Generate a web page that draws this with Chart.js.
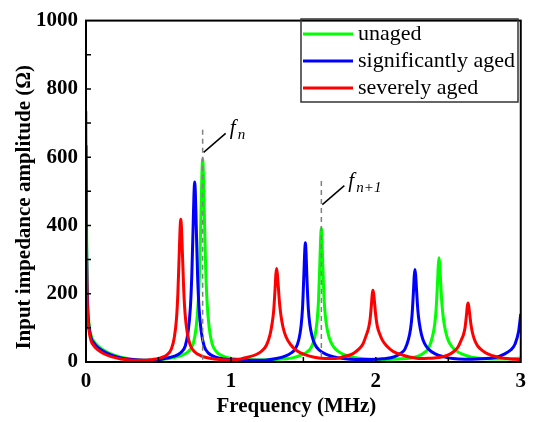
<!DOCTYPE html>
<html>
<head>
<meta charset="utf-8">
<script src="https://cdn.jsdelivr.net/npm/chart.js@4.4.1/dist/chart.umd.min.js"></script>
<style>
  body { margin: 0; background: #fff; }
  #wrap { width: 533px; height: 422px; }
</style>
</head>
<body>
<div id="wrap"><canvas id="chart"></canvas></div>
<script>
// Data: [frequency (MHz), amplitude (ohm)]
const unaged = [
  [0,735],[0.002,560],[0.004,380],[0.007,250],[0.012,165],[0.02,115],[0.035,78],[0.055,60],[0.08,48],[0.12,35],[0.18,22],[0.24,14],[0.3,9],[0.36,6],[0.42,5],[0.5,6],
  [0.605,13],[0.665,20],[0.71,32],[0.74,54],[0.76,101],[0.775,179],[0.785,286],[0.795,464],[0.8,553],[0.805,595],
  [0.81,553],[0.815,464],[0.825,286],[0.835,179],[0.85,101],[0.87,54],[0.9,30],[0.945,17],[1.005,10],
  [1.1,7],[1.2,6],[1.3,7],
  [1.424,12],[1.484,20],[1.524,29],[1.554,43],[1.579,74],[1.594,118],[1.604,176],[1.614,294],[1.619,361],[1.624,392],
  [1.629,353],[1.634,282],[1.644,176],[1.654,125],[1.669,86],[1.689,59],[1.719,39],[1.764,25],[1.824,16],[1.884,11],
  [1.97,8],[2.06,7],[2.15,9],
  [2.236,11],[2.296,18],[2.336,28],[2.366,42],[2.391,75],[2.406,110],[2.416,155],[2.426,235],[2.431,283],[2.436,305],
  [2.441,285],[2.446,245],[2.456,170],[2.466,128],[2.481,90],[2.501,62],[2.531,42],[2.576,27],[2.636,17],[2.696,12],
  [2.8,9],[2.9,9],[2.96,10],[3.0,12]
];

const signifAged = [
  [0,635],[0.002,480],[0.004,330],[0.007,225],[0.012,150],[0.02,105],[0.035,70],[0.055,55],[0.08,43],[0.12,31],[0.18,19],[0.24,12],[0.3,8],[0.36,6],[0.43,5],[0.5,6],
  [0.55,11],[0.61,17],[0.655,28],[0.685,47],[0.705,90],[0.72,158],[0.73,253],[0.74,411],[0.745,490],[0.75,527],
  [0.755,490],[0.76,411],[0.77,253],[0.78,158],[0.795,90],[0.815,47],[0.845,26],[0.89,15],[0.95,9],
  [1.05,6],[1.15,5],[1.25,6],
  [1.314,10],[1.374,17],[1.414,26],[1.444,38],[1.469,66],[1.484,105],[1.494,157],[1.504,262],[1.509,321],[1.514,349],
  [1.519,314],[1.524,251],[1.534,157],[1.544,112],[1.559,77],[1.579,52],[1.609,35],[1.654,23],[1.714,15],[1.774,10],
  [1.86,7],[1.95,7],[2.03,9],
  [2.07,10],[2.13,16],[2.17,25],[2.2,37],[2.225,66],[2.24,98],[2.25,138],[2.26,209],[2.265,252],[2.27,271],
  [2.275,253],[2.28,218],[2.29,151],[2.3,114],[2.315,80],[2.335,55],[2.365,37],[2.41,24],[2.47,15],[2.53,10],
  [2.62,8],[2.7,9],
  [2.83,14],[2.89,24],[2.93,35],[2.96,52],[2.985,89],[3.0,141]
];

const severelyAged = [
  [0,490],[0.002,390],[0.004,290],[0.007,200],[0.012,135],[0.02,95],[0.035,62],[0.055,47],[0.08,36],[0.12,25],[0.18,15],[0.24,9],[0.3,6],[0.36,5],[0.42,5],
  [0.454,7],[0.514,12],[0.559,21],[0.589,38],[0.609,71],[0.624,125],[0.634,201],[0.644,326],[0.649,389],[0.654,418],
  [0.659,392],[0.664,335],[0.674,215],[0.684,140],[0.699,85],[0.719,50],[0.749,30],[0.794,18],[0.854,11],[0.92,7],
  [1.0,6],[1.07,9],
  [1.115,14],[1.175,22],[1.215,33],[1.245,49],[1.27,80],[1.285,115],[1.295,150],[1.305,216],[1.31,256],[1.315,274],
  [1.32,260],[1.325,233],[1.335,175],[1.345,137],[1.36,101],[1.38,74],[1.41,52],[1.455,33],[1.515,21],[1.575,14],
  [1.65,10],[1.72,10],
  [1.78,16],[1.84,24],[1.88,37],[1.91,52],[1.935,80],[1.95,100],[1.96,124],[1.97,170],[1.975,198],[1.98,210],
  [1.985,200],[1.99,179],[2.0,134],[2.01,105],[2.025,84],[2.045,64],[2.075,47],[2.12,31],[2.18,21],[2.24,14],
  [2.31,10],[2.37,11],
  [2.436,13],[2.496,20],[2.536,30],[2.566,43],[2.591,66],[2.606,82],[2.616,102],[2.626,140],[2.631,163],[2.636,173],
  [2.641,164],[2.646,147],[2.656,111],[2.666,87],[2.681,65],[2.701,48],[2.731,35],[2.776,23],[2.836,15],[2.9,10],
  [2.96,8],[3.0,7]
];

// short orange trace hugging the y axis
const extraTrace = [[0,0],[0,115]];

const seriesNames = ['unaged', 'significantly aged', 'severely aged'];
const seriesColors = ['#00ff00', '#0000ff', '#ff0000'];

const xTicks = [0, 1, 2, 3];
const yTicks = [0, 200, 400, 600, 800, 1000];
const xTickMarks = [0.5, 1, 1.5, 2, 2.5];
const yTickMarks = [100, 200, 300, 400, 500, 600, 700, 800, 900];

// resonance markers: f_n and f_n+1
const markerFreq = [0.805, 1.624];
const markerTop = [680, 530];
const leaderFrom = [614, 461];
const markerSub = ['n', 'n+1'];

const pts = arr => arr.map(([x, y]) => ({x, y}));
const serif = "'Liberation Serif', 'Times New Roman', serif";

const frame = {
  id: 'frame',
  afterDatasetsDraw(chart) {
    const {ctx, chartArea: a, scales: {x, y}} = chart;
    ctx.save();
    // dashed markers + leader lines
    markerFreq.forEach((f, i) => {
      const px = x.getPixelForValue(f);
      ctx.strokeStyle = '#808080';
      ctx.lineWidth = 1.5;
      ctx.setLineDash([5, 4]);
      ctx.beginPath();
      ctx.moveTo(px, y.getPixelForValue(markerTop[i]));
      ctx.lineTo(px, a.bottom);
      ctx.stroke();
      ctx.setLineDash([]);
      const sy = y.getPixelForValue(leaderFrom[i]);
      ctx.strokeStyle = '#000';
      ctx.lineWidth = 1.5;
      ctx.beginPath();
      ctx.moveTo(px + 1, sy);
      ctx.lineTo(px + 23, sy - 19);
      ctx.stroke();
      ctx.fillStyle = '#000';
      ctx.textBaseline = 'alphabetic';
      ctx.textAlign = 'left';
      ctx.font = 'italic 21px ' + serif;
      ctx.fillText('f', px + 27, sy - 18);
      ctx.font = 'italic 15px ' + serif;
      ctx.fillText(markerSub[i], px + 35, sy - 13);
    });
    ctx.restore();
  },
  afterDraw(chart) {
    const {ctx, chartArea: a, scales: {x, y}} = chart;
    ctx.save();
    // inward tick marks
    ctx.strokeStyle = '#000';
    ctx.lineWidth = 1.5;
    ctx.beginPath();
    yTickMarks.forEach(v => {
      const p = y.getPixelForValue(v);
      ctx.moveTo(a.left, p); ctx.lineTo(a.left + 5, p);
    });
    xTickMarks.forEach(v => {
      const p = x.getPixelForValue(v);
      ctx.moveTo(p, a.bottom); ctx.lineTo(p, a.bottom - 5);
    });
    ctx.stroke();
    // frame
    ctx.lineWidth = 2;
    ctx.strokeRect(a.left, a.top, a.right - a.left, a.bottom - a.top);

    // axis titles
    ctx.fillStyle = '#000';
    ctx.font = 'bold 21px ' + serif;
    ctx.textAlign = 'center';
    ctx.textBaseline = 'middle';
    ctx.fillText('Frequency (MHz)', (a.left + a.right) / 2 - 7, a.bottom + 45);
    ctx.save();
    ctx.translate(25, (a.top + a.bottom) / 2 + 16);
    ctx.rotate(-Math.PI / 2);
    ctx.fillText('Input impedance amplitude (\u03A9)', 0, 0);
    ctx.restore();

    // legend box
    const lx = 301, ly = 19, lw = 217, lh = 83;
    ctx.strokeStyle = '#333';
    ctx.lineWidth = 1.5;
    ctx.strokeRect(lx, ly, lw, lh);
    ctx.font = '22px ' + serif;
    ctx.textAlign = 'left';
    seriesNames.forEach((name, i) => {
      const ry = ly + 15 + i * 27;
      ctx.strokeStyle = seriesColors[i];
      ctx.lineWidth = 3;
      ctx.beginPath();
      ctx.moveTo(lx + 2, ry); ctx.lineTo(lx + 52, ry);
      ctx.stroke();
      ctx.fillStyle = '#000';
      ctx.fillText(name, lx + 57, ry);
    });
    ctx.restore();
  }
};

const lineSet = (label, data, color, order) => ({
  label, data, borderColor: color, borderWidth: 3, pointRadius: 0,
  fill: false, cubicInterpolationMode: 'monotone', order
});

new Chart(document.getElementById('chart'), {
  type: 'line',
  data: {
    datasets: [
      lineSet(seriesNames[0], pts(unaged), seriesColors[0], 3),
      lineSet(seriesNames[1], pts(signifAged), seriesColors[1], 2),
      lineSet(seriesNames[2], pts(severelyAged), seriesColors[2], 1),
      Object.assign(lineSet('', pts(extraTrace), '#ff8c1a', 4), {borderWidth: 2})
    ]
  },
  options: {
    responsive: true,
    maintainAspectRatio: false,
    animation: false,
    layout: { padding: { top: 15, right: 11, left: 0, bottom: 0 } },
    plugins: { legend: { display: false }, tooltip: { enabled: false } },
    scales: {
      x: {
        type: 'linear', min: 0, max: 3,
        afterFit: s => { s.height = 60; },
        afterBuildTicks: s => { s.ticks = xTicks.map(v => ({value: v})); },
        grid: { display: false, drawTicks: false },
        border: { display: false },
        ticks: { padding: 7, color: '#000', callback: v => String(v),
                 font: { family: serif, size: 21, weight: 'bold' } }
      },
      y: {
        min: 0, max: 1000,
        afterFit: s => { s.width = 86; },
        afterBuildTicks: s => { s.ticks = yTicks.map(v => ({value: v})); },
        grid: { display: false, drawTicks: false },
        border: { display: false },
        ticks: { padding: 8, color: '#000', callback: v => String(v),
                 font: { family: serif, size: 21, weight: 'bold' } }
      }
    }
  },
  plugins: [frame]
});
</script>
</body>
</html>
